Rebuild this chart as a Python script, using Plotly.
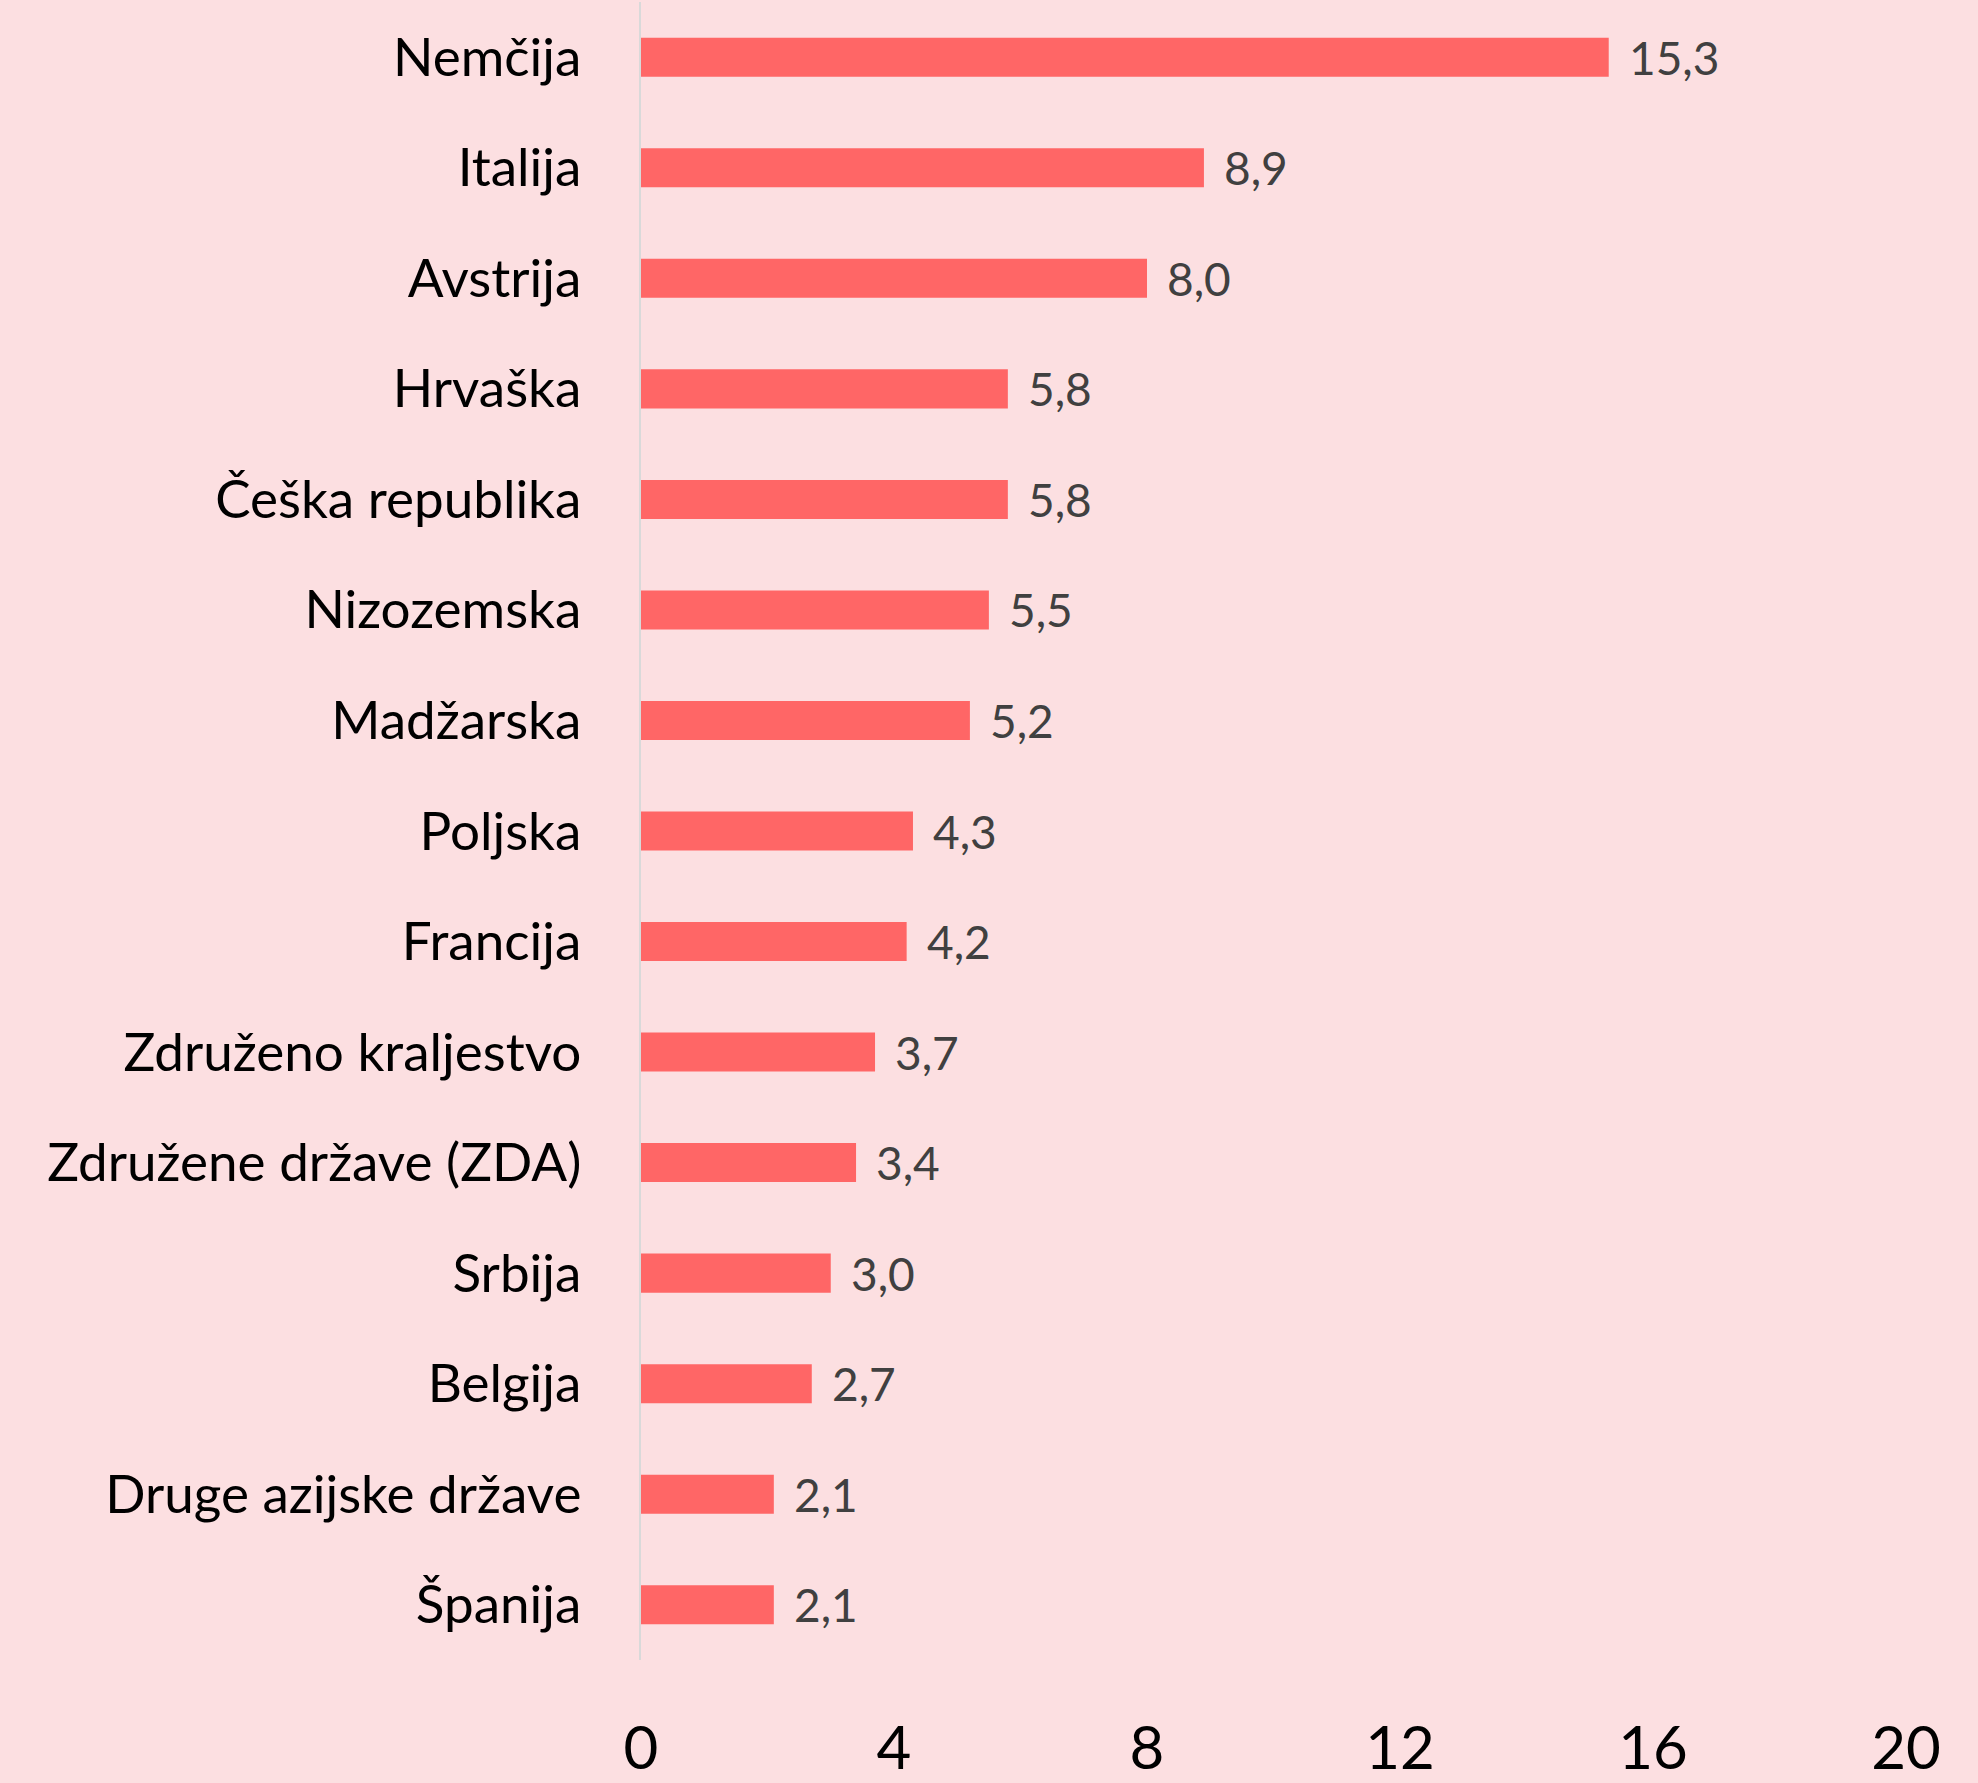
import plotly.graph_objects as go

categories = ["Nemčija", "Italija", "Avstrija", "Hrvaška", "Češka republika", "Nizozemska",
              "Madžarska", "Poljska", "Francija", "Združeno kraljestvo", "Združene države (ZDA)",
              "Srbija", "Belgija", "Druge azijske države", "Španija"]
values = [15.3, 8.9, 8.0, 5.8, 5.8, 5.5, 5.2, 4.3, 4.2, 3.7, 3.4, 3.0, 2.7, 2.1, 2.1]
x_ticks = [0, 4, 8, 12, 16, 20]

labels = [f"{v:.1f}".replace(".", ",") for v in values]

FONT = "Lato, Carlito, Calibri, sans-serif"
BG = "#FCDFE1"

fig = go.Figure()
fig.add_trace(go.Bar(
    x=values, y=categories, orientation="h",
    marker=dict(color="#FF6666", line=dict(width=0)),
    width=0.353,
    hoverinfo="skip",
))

for c, v, t in zip(categories, values, labels):
    fig.add_annotation(x=v, y=c, text=t, showarrow=False, xanchor="left", yanchor="middle",
                       xshift=18, font=dict(family=FONT, size=46, color="#404040"))

fig.update_layout(
    width=1978, height=1783,
    margin=dict(l=641, r=72, t=2, b=123, autoexpand=False),
    paper_bgcolor=BG, plot_bgcolor=BG,
    showlegend=False,
    font=dict(family=FONT, color="#000000"),
)
fig.update_xaxes(range=[0, 20], tickvals=x_ticks, ticktext=[str(t) for t in x_ticks],
                 showgrid=False, zeroline=False, showline=False, ticks="", automargin=False,
                 tickfont=dict(family=FONT, size=60, color="#000000"), ticklabelstandoff=48)
fig.update_yaxes(categoryorder="array", categoryarray=categories, autorange=False,
                 range=[14.5, -0.5], automargin=False,
                 showgrid=False, zeroline=False, showline=True, linecolor="#D9D9D9", linewidth=2,
                 ticks="", tickfont=dict(family=FONT, size=53, color="#000000"),
                 ticklabelstandoff=47)

fig.write_html("out.html", config={"displayModeBar": False},
               post_script="document.body.style.margin='0';document.body.style.background='%s';" % BG)
